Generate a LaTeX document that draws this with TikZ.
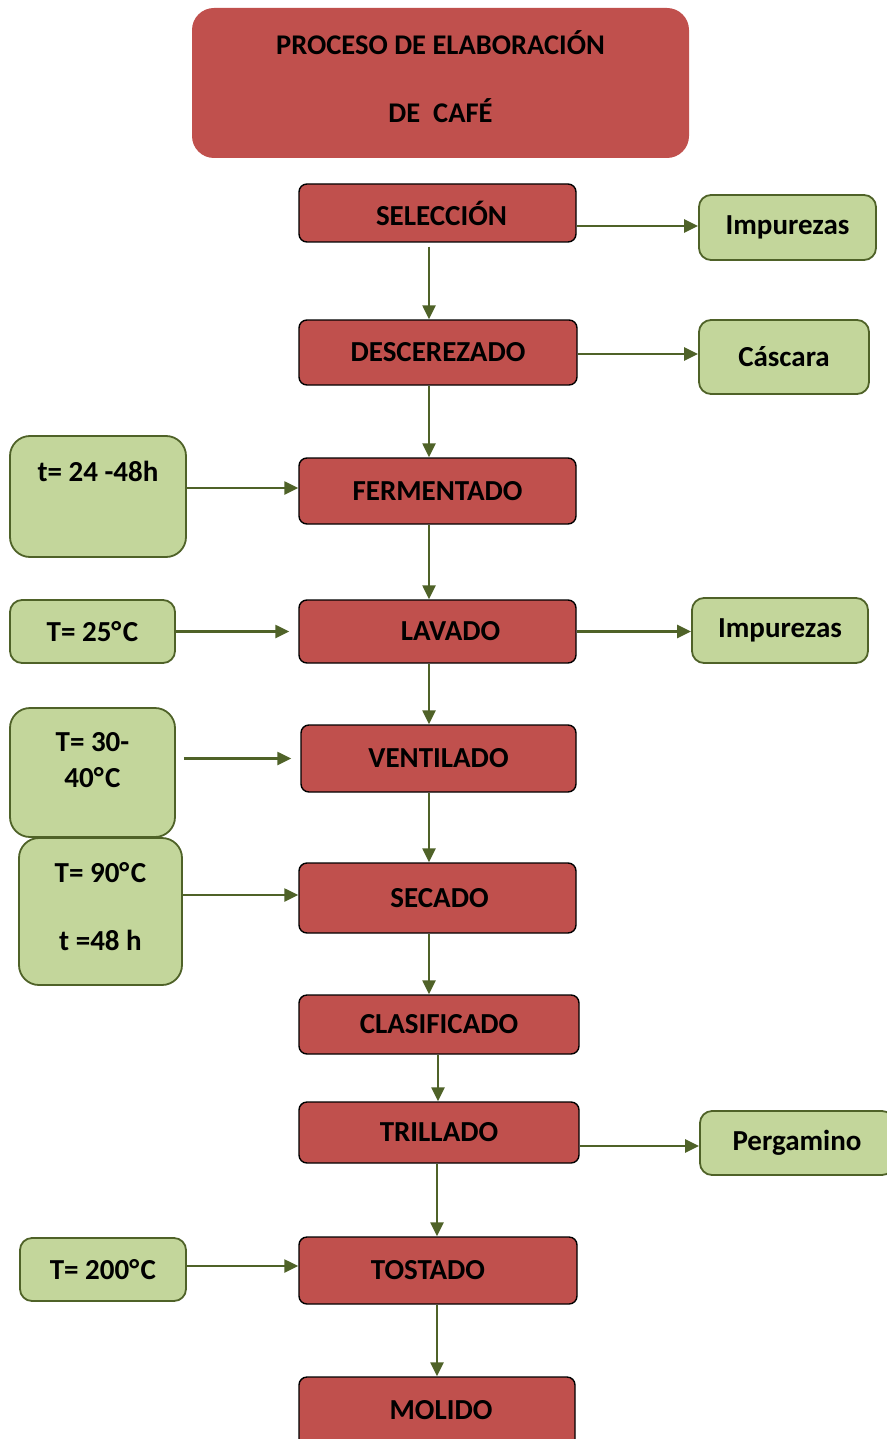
\documentclass[tikz,border=0pt]{standalone}
\usepackage{fontspec}
\setmainfont{Carlito}
\usetikzlibrary{arrows.meta}
\usetikzlibrary{positioning}

\definecolor{cafe}{HTML}{C0504D}
\definecolor{hoja}{HTML}{C3D69B}
\definecolor{oliva}{HTML}{4F6228}

\newcommand{\grados}{°\kern1.5pt C}

\tikzset{
  titulo/.style={fill=cafe, rounded corners=22pt, minimum width=497pt, minimum height=150pt},
  paso/.style={draw=black, line width=1.4pt, fill=cafe, rounded corners=8pt, inner sep=0pt},
  dato/.style={draw=oliva, line width=1.8pt, fill=hoja, rounded corners=12pt, inner sep=0pt},
  letra/.style={font=\fontsize{29}{34}\selectfont\bfseries, align=center},
  flujo/.style={draw=oliva, line width=2.4pt, -{Triangle[length=14pt,width=13pt]}}
}

\begin{document}
\begin{tikzpicture}[x=1pt,y=-1pt]
    \useasboundingbox (0,0) rectangle (886,1439);
    % titulo
    \node[titulo] (tit) at (440.5,83) {};
    \node[letra, font=\fontsize{28.5}{68}\selectfont\bfseries] (tittxt) at ([yshift=6pt]tit.center) {PROCESO DE ELABORACIÓN\\DE\ \ CAFÉ};
    % pasos
    \node[paso, letra, minimum width=277pt, minimum height=58pt] (sel) at (437.5,213) {\hspace*{8pt}SELECCIÓN};
    \node[paso, letra, minimum width=278pt, minimum height=65pt] (desc) at (438,352.5) {DESCEREZADO};
    \node[paso, letra, minimum width=277pt, minimum height=66pt] (ferm) at (437.5,491) {FERMENTADO};
    \node[paso, letra, minimum width=277pt, minimum height=63pt] (lav) at (437.5,631.5) {\hspace*{26pt}LAVADO};
    \node[paso, letra, minimum width=275pt, minimum height=67pt] (vent) at (438.5,758.5) {VENTILADO};
    \node[paso, letra, minimum width=277pt, minimum height=70pt] (sec) at (437.5,898) {\hspace*{4pt}SECADO};
    \node[paso, letra, minimum width=280pt, minimum height=59pt] (clas) at (439,1024.5) {CLASIFICADO};
    \node[paso, letra, minimum width=280pt, minimum height=61pt] (trill) at (439,1132.5) {TRILLADO};
    \node[paso, letra, minimum width=278pt, minimum height=67pt] (tost) at (438,1270.5) {\hspace*{-20pt}TOSTADO};
    \node[paso, minimum width=276pt, minimum height=73pt] (mol) at (437,1413.5) {};
    \node[letra] (moltxt) at ([xshift=4pt,yshift=3pt]mol.center) {MOLIDO};
    % salidas
    \node[dato, letra, minimum width=177pt, minimum height=65pt] (imp1) at (787.5,227.5) {Impurezas};
    \node[dato, letra, minimum width=170pt, minimum height=74pt] (casc) at (784,357) {Cáscara};
    \node[dato, letra, minimum width=176pt, minimum height=65pt] (imp2) at (780,630.5) {Impurezas};
    \node[dato, letra, minimum width=194pt, minimum height=64pt] (perg) at (797,1143) {Pergamino};
    % condiciones
    \node[dato, rounded corners=20pt, minimum width=176pt, minimum height=121pt] (tiempo) at (98,496.5) {};
    \node[letra] (tiempotxt) at ([yshift=25.5pt]tiempo.center) {t= 24 -48h};
    \node[dato, letra, minimum width=165pt, minimum height=63pt] (t25) at (92.5,631.5) {T= 25\grados};
    \node[dato, rounded corners=20pt, minimum width=165pt, minimum height=129pt] (t3040) at (92.5,772.5) {};
    \node[letra, font=\fontsize{29}{36}\selectfont\bfseries] (t3040txt) at ([yshift=12.5pt]t3040.center) {T= 30-\\40\grados};
    \node[dato, rounded corners=20pt, minimum width=163pt, minimum height=147pt] (t90) at (100.5,911.5) {};
    \node[letra, font=\fontsize{29}{68}\selectfont\bfseries] (t90txt) at ([yshift=4.5pt]t90.center) {T= 90\grados\\t =48 h};
    \node[dato, letra, minimum width=166pt, minimum height=63pt] (t200) at (103,1269.5) {T= 200\grados};

    % flechas verticales
    \draw[flujo] ([xshift=-8.5pt,yshift=-4pt]sel.south) -- ([xshift=-8.5pt]sel.south |- desc.north);
    \draw[flujo] ([xshift=-9pt]desc.south) -- ([xshift=-9pt]desc.south |- ferm.north);
    \draw[flujo] ([xshift=-8.5pt]ferm.south) -- ([xshift=-8.5pt]ferm.south |- lav.north);
    \draw[flujo] ([xshift=-8.5pt]lav.south) -- ([xshift=-8.5pt]lav.south |- vent.north);
    \draw[flujo] ([xshift=-9.5pt]vent.south) -- ([xshift=-9.5pt]vent.south |- sec.north);
    \draw[flujo] ([xshift=-8.5pt]sec.south) -- ([xshift=-8.5pt]sec.south |- clas.north);
    \draw[flujo] ([xshift=-1pt]clas.south) -- ([xshift=-1pt]clas.south |- trill.north);
    \draw[flujo] ([xshift=-2pt]trill.south) -- ([xshift=-2pt]trill.south |- tost.north);
    \draw[flujo] ([xshift=-1pt]tost.south) -- ([xshift=-1pt]tost.south |- mol.north);
    % flechas a la derecha
    \draw[flujo] ([yshift=1.5pt]sel.east |- imp1.west) -- ([yshift=1.5pt]imp1.west);
    \draw[flujo] ([yshift=3pt]desc.east |- casc.west) -- ([yshift=3pt]casc.west);
    \draw[flujo] (lav.east) -- (lav.east -| imp2.west);
    \draw[flujo] ([yshift=-3pt]trill.east |- perg.west) -- ([yshift=-3pt]perg.west);
    % flechas desde la izquierda
    \draw[flujo] ([yshift=3pt]tiempo.east |- ferm.west) -- ([yshift=3pt]ferm.west);
    \draw[flujo] (t25.east) -- ([xshift=-9pt]t25.east -| lav.west);
    \draw[flujo] ([xshift=8pt]t3040.east |- vent.west) -- ([xshift=-9pt]vent.west);
    \draw[flujo] ([yshift=3pt]t90.east |- sec.west) -- ([yshift=3pt]sec.west);
    \draw[flujo] ([yshift=4.5pt]t200.east |- tost.west) -- ([yshift=4.5pt]tost.west);
\end{tikzpicture}
\end{document}
